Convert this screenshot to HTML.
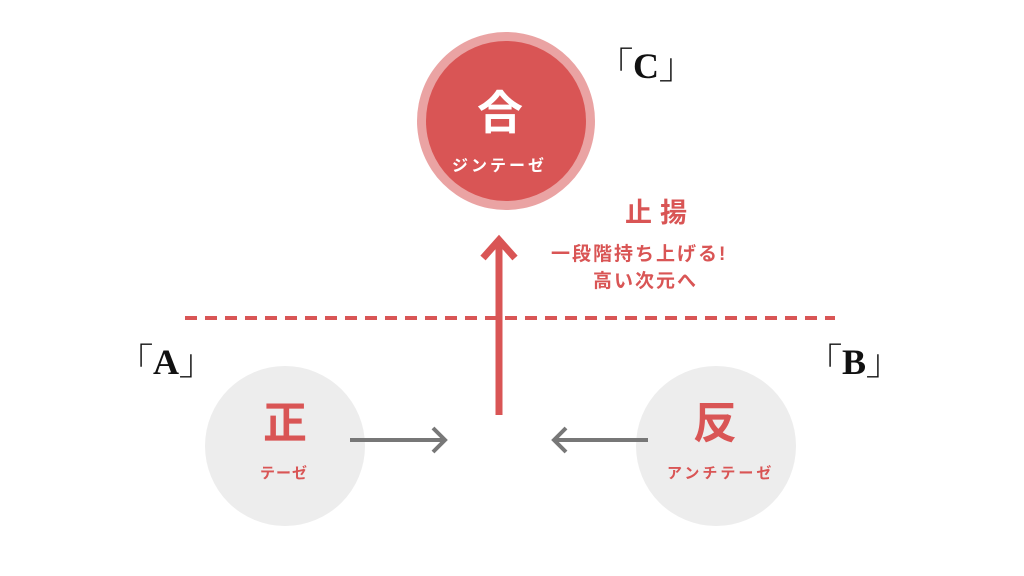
<!DOCTYPE html>
<html><head><meta charset="utf-8"><style>
body{margin:0;width:1024px;height:576px;background:#fff;overflow:hidden;position:relative;font-family:"Liberation Sans","Noto Sans CJK JP",sans-serif}
.t{position:absolute;white-space:nowrap}
.br{font-family:"Liberation Serif","Noto Serif CJK SC",serif;font-weight:bold;font-size:36px;color:#111}
</style></head><body>
<svg width="1024" height="576" style="position:absolute;left:0;top:0">
<circle cx="506" cy="121" r="89" fill="#eaa3a3"/>
<circle cx="506" cy="121" r="80" fill="#d95555"/>
<circle cx="285" cy="446" r="80" fill="#ededed"/>
<circle cx="716" cy="446" r="80" fill="#ededed"/>
<line x1="185" y1="318" x2="835" y2="318" stroke="#d95555" stroke-width="4" stroke-dasharray="12 8"/>
<line x1="499" y1="415" x2="499" y2="240" stroke="#d95555" stroke-width="7"/>
<polyline points="483,258 499,240 515,258" fill="none" stroke="#d95555" stroke-width="7"/>
<line x1="350" y1="440" x2="444" y2="440" stroke="#777" stroke-width="4"/>
<polyline points="433,428 445,440 433,452" fill="none" stroke="#777" stroke-width="4"/>
<line x1="648" y1="440" x2="555" y2="440" stroke="#777" stroke-width="4"/>
<polyline points="566,428 554,440 566,452" fill="none" stroke="#777" stroke-width="4"/>
</svg>
<div class="t" style="left:477px;top:90px;font-size:46px;font-weight:bold;color:#fff;line-height:1">合</div>
<div class="t" style="left:452px;top:152px;font-size:16px;font-weight:bold;color:#fff;letter-spacing:3px">ジンテーゼ</div>
<div class="t" style="left:263px;top:402px;font-size:44px;font-weight:bold;color:#d95555;line-height:1">正</div>
<div class="t" style="left:260px;top:462px;font-size:15px;font-weight:bold;color:#d95555;letter-spacing:1px">テーゼ</div>
<div class="t" style="left:693px;top:402px;font-size:44px;font-weight:bold;color:#d95555;line-height:1">反</div>
<div class="t" style="left:667px;top:462px;font-size:15px;font-weight:bold;color:#d95555;letter-spacing:3px">アンチテーゼ</div>
<div class="t" style="left:625px;top:197px;font-size:27px;font-weight:bold;color:#d95555;letter-spacing:8px;line-height:1.2">止揚</div>
<div class="t" style="left:551px;top:242px;font-size:19px;font-weight:bold;color:#d95555;letter-spacing:2px;line-height:1.4">一段階持ち上げる!</div>
<div class="t" style="left:593px;top:269px;font-size:19px;font-weight:bold;color:#d95555;letter-spacing:2px;line-height:1.4">高い次元へ</div>
<div class="t br" style="left:597px;top:38px">「C」</div>
<div class="t br" style="left:117px;top:334px">「A」</div>
<div class="t br" style="left:806px;top:334px">「B」</div>
</body></html>
